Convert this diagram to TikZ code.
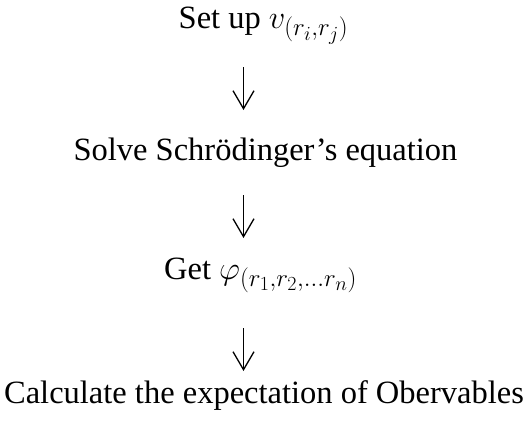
\documentclass[tikz,border=0pt]{standalone}
\usepackage{fix-cm}
\usepackage{fontspec}
\setmainfont{Liberation Serif}
\DeclareMathSizes{32.5}{32.5}{25}{20}
\usetikzlibrary{arrows.meta}

\tikzset{
  stage/.style={anchor=base, inner sep=0pt, font=\fontsize{32.5}{38}\selectfont},
  flow/.style={-{Straight Barb[length=18pt, width=21pt]}, line width=1.3pt}
}

\begin{document}
\begin{tikzpicture}[x=1pt, y=-1pt]
    \useasboundingbox (0,0) rectangle (525,423);
    \coordinate (ax) at (243.5,0);
    \node[stage] (setup) at (263.5,28) {Set up $v_{(r_i,r_j)}$};
    \node[stage] (solve) at (265.5,160) {Solve Schrödinger’s equation};
    \node[stage] (get) at (260.5,279) {Get $\varphi_{(r_1,r_2,\ldots r_n)}$};
    \node[stage] (calc) at (264,403) {Calculate the expectation of Obervables};
    \foreach \a/\b/\s/\e in {setup/solve/39pt/50pt, solve/get/35pt/41pt, get/calc/49pt/32pt} {
      \draw[flow, shorten <=\s, shorten >=\e] (\a.base -| ax) -- (\b.base -| ax);
    }
  \end{tikzpicture}
\end{document}
